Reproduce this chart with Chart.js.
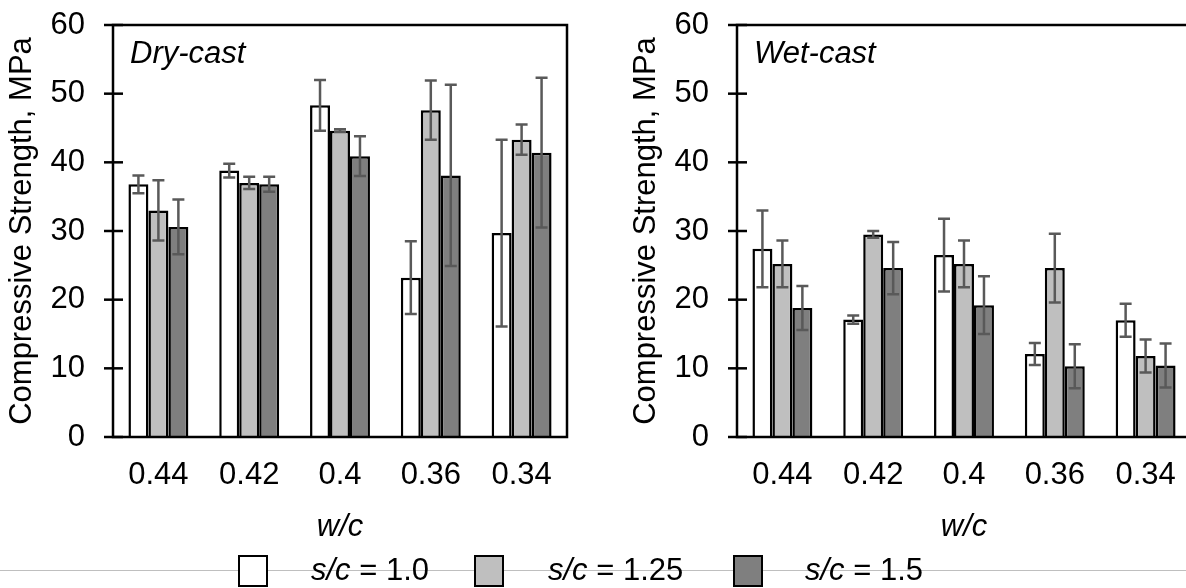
<!DOCTYPE html>
<html>
<head>
<meta charset="utf-8">
<script src="https://cdn.jsdelivr.net/npm/chart.js@4/dist/chart.umd.min.js"></script>
<style>
  html, body { margin: 0; padding: 0; background: #fff; }
  #wrap { position: relative; width: 1186px; height: 588px; overflow: hidden; font-family: "Liberation Sans", Arial, sans-serif; }
  .panel { position: absolute; top: 0; width: 624px; height: 588px; }
  #line { position: absolute; left: 0; top: 570px; width: 1186px; height: 1px; background: #bfbfbf; }
  .box { position: absolute; top: 555px; width: 26px; height: 28px; border: 2px solid #000; }
  .txt { position: absolute; top: 552px; font-size: 31px; line-height: 36px; color: #000; white-space: nowrap; }
</style>
</head>
<body>
<div id="wrap">
  <div class="panel" style="left:0"><canvas id="dry"></canvas></div>
  <div class="panel" style="left:624px"><canvas id="wet"></canvas></div>
  <div id="line"></div>
  <div class="box" style="left:238px;background:#ffffff"></div>
  <div class="txt" style="left:311px"><i>s/c</i> = 1.0</div>
  <div class="box" style="left:474px;background:#bfbfbf"></div>
  <div class="txt" style="left:548px"><i>s/c</i> = 1.25</div>
  <div class="box" style="left:733px;background:#7f7f7f"></div>
  <div class="txt" style="left:805px"><i>s/c</i> = 1.5</div>
</div>
<script>
const wcLabels = ['0.44', '0.42', '0.4', '0.36', '0.34'];
const seriesNames = ['s/c = 1.0', 's/c = 1.25', 's/c = 1.5'];

// dry-cast means and error (+/-)
const dryMean10 = [36.8, 38.8, 48.3, 23.2, 29.7];
const dryMean125 = [33.0, 37.0, 44.6, 47.6, 43.3];
const dryMean15 = [30.6, 36.8, 40.9, 38.1, 41.4];
const dryErr10 = [1.3, 1.0, 3.7, 5.3, 13.6];
const dryErr125 = [4.4, 0.9, 0.2, 4.3, 2.2];
const dryErr15 = [4.0, 1.1, 2.9, 13.2, 10.9];

// wet-cast
const wetMean10 = [27.4, 17.1, 26.5, 12.1, 17.0];
const wetMean125 = [25.2, 29.5, 25.2, 24.6, 11.8];
const wetMean15 = [18.8, 24.6, 19.2, 10.3, 10.4];
const wetErr10 = [5.6, 0.6, 5.3, 1.6, 2.4];
const wetErr125 = [3.4, 0.5, 3.4, 5.0, 2.4];
const wetErr15 = [3.2, 3.8, 4.2, 3.2, 3.2];

const barColors = ['#ffffff', '#bfbfbf', '#7f7f7f'];
const FONT = '"Liberation Sans", Arial, sans-serif';

// frame, crossing ticks, error bars and panel label
const framePlugin = {
  id: 'frame',
  afterDatasetsDraw(chart, args, opts) {
    const ctx = chart.ctx;
    const a = chart.chartArea;
    const y = chart.scales.y;
    ctx.save();
    // error bars
    ctx.strokeStyle = '#595959';
    ctx.lineWidth = 2.5;
    chart.data.datasets.forEach((ds, i) => {
      const meta = chart.getDatasetMeta(i);
      meta.data.forEach((bar, j) => {
        const v = ds.data[j];
        const e = ds.err[j];
        const top = y.getPixelForValue(v + e);
        const bot = y.getPixelForValue(v - e);
        ctx.beginPath();
        ctx.moveTo(bar.x, top);
        ctx.lineTo(bar.x, bot);
        ctx.moveTo(bar.x - 6, top);
        ctx.lineTo(bar.x + 6, top);
        ctx.moveTo(bar.x - 6, bot);
        ctx.lineTo(bar.x + 6, bot);
        ctx.stroke();
      });
    });
    // box
    ctx.strokeStyle = '#000';
    ctx.lineWidth = 2.5;
    ctx.strokeRect(a.left, a.top, a.right - a.left, a.bottom - a.top);
    // ticks crossing y axis
    y.ticks.forEach(t => {
      const py = y.getPixelForValue(t.value);
      ctx.beginPath();
      ctx.moveTo(a.left - 9, py);
      ctx.lineTo(a.left + 10, py);
      ctx.stroke();
    });
    // panel name
    ctx.fillStyle = '#000';
    ctx.font = 'italic 31px ' + FONT;
    ctx.textBaseline = 'alphabetic';
    ctx.fillText(opts.label, a.left + 17, a.top + 38);
    ctx.restore();
  }
};

function makeChart(id, label, means, errs) {
  new Chart(document.getElementById(id), {
    type: 'bar',
    data: {
      labels: wcLabels,
      datasets: means.map((m, i) => ({
        label: seriesNames[i],
        data: m,
        err: errs[i],
        backgroundColor: barColors[i],
        borderColor: '#000',
        borderWidth: 2.5,
        categoryPercentage: 0.66,
        barPercentage: 1.0
      }))
    },
    options: {
      responsive: true,
      maintainAspectRatio: false,
      animation: false,
      layout: { padding: { left: 0, right: 57, top: 25, bottom: 0 } },
      plugins: {
        legend: { display: false },
        tooltip: { enabled: false },
        frame: { label: label }
      },
      scales: {
        x: {
          grid: { display: false, drawTicks: false },
          border: { display: false },
          ticks: { color: '#000', font: { size: 31, family: FONT }, padding: 20 },
          title: {
            display: true, text: 'w/c', color: '#000',
            font: { size: 31, family: FONT, style: 'italic' },
            padding: { top: 0, bottom: 42 }
          },
          afterFit(s) { s.height = 151; s.paddingLeft = 0; s.paddingRight = 0; }
        },
        y: {
          min: 0, max: 60,
          grid: { display: false, drawTicks: false },
          border: { display: false },
          ticks: { stepSize: 10, color: '#000', font: { size: 31, family: FONT }, padding: 28 },
          title: {
            display: true, text: 'Compressive Strength, MPa', color: '#000',
            font: { size: 31, family: FONT },
            padding: { top: 4, bottom: 0 }
          },
          afterFit(s) { s.width = 113; s.paddingTop = 0; s.paddingBottom = 0; }
        }
      }
    },
    plugins: [framePlugin]
  });
}

makeChart('dry', 'Dry-cast', [dryMean10, dryMean125, dryMean15], [dryErr10, dryErr125, dryErr15]);
makeChart('wet', 'Wet-cast', [wetMean10, wetMean125, wetMean15], [wetErr10, wetErr125, wetErr15]);
</script>
</body>
</html>
